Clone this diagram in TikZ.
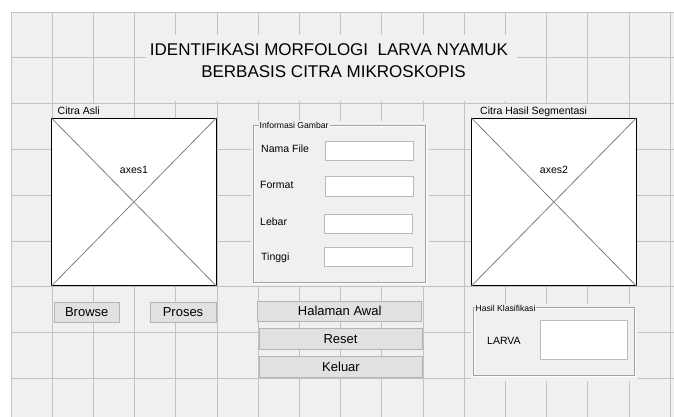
\documentclass[tikz,border=0pt]{standalone}
\usepackage{fontspec}
\setmainfont{Liberation Sans}

\definecolor{guibg}{HTML}{F0F0F0}
\definecolor{guigrid}{HTML}{C2C2C2}
\definecolor{btnfill}{HTML}{E1E1E1}
\definecolor{btnedge}{HTML}{B4B4B4}
\definecolor{editedge}{HTML}{B8BAC0}
\definecolor{paneledge}{HTML}{A0A0A0}

\begin{document}
\begin{tikzpicture}[x=1pt, y=-1pt,
    gridline/.style={guigrid, line width=0.9pt},
    btn/.style={draw=btnedge, fill=btnfill, line width=0.9pt, inner sep=0pt,
        minimum height=20.7pt, font=\fontsize{13}{15}\selectfont},
    editbox/.style={draw=editedge, fill=white, line width=0.9pt, inner sep=0pt,
        minimum width=87.7pt, minimum height=19.6pt},
    lbl/.style={inner sep=0pt, anchor=west, font=\fontsize{10.5}{12}\selectfont},
    caption/.style={inner sep=0pt, anchor=base west, font=\fontsize{10.5}{12}\selectfont},
    paneltitle/.style={inner sep=1pt, fill=guibg, anchor=base west,
        font=\fontsize{8.6}{10}\selectfont},
    titletext/.style={inner sep=0pt, anchor=base, font=\fontsize{17}{20}\selectfont},
    axesbox/.style={draw=black, fill=white, line width=1.1pt, inner sep=0pt,
        minimum width=164.3pt, minimum height=167.4pt},
    cross/.style={gray, line width=0.8pt}]

        \useasboundingbox (0,0) rectangle (674,417);
        \fill[white] (0,0) rectangle (674,417);
        \fill[guibg] (11,12) rectangle (674,417);

        % grid of the layout area
        \draw[gridline] (11,12) -- (11,417);
        \draw[gridline] (52.2,12) -- (52.2,417);
        \draw[gridline] (93.4,12) -- (93.4,417);
        \draw[gridline] (134.6,12) -- (134.6,417);
        \draw[gridline] (175.8,12) -- (175.8,417);
        \draw[gridline] (217,12) -- (217,417);
        \draw[gridline] (258.2,12) -- (258.2,417);
        \draw[gridline] (299.4,12) -- (299.4,417);
        \draw[gridline] (340.6,12) -- (340.6,417);
        \draw[gridline] (381.8,12) -- (381.8,417);
        \draw[gridline] (423,12) -- (423,417);
        \draw[gridline] (464.2,12) -- (464.2,417);
        \draw[gridline] (505.4,12) -- (505.4,417);
        \draw[gridline] (546.6,12) -- (546.6,417);
        \draw[gridline] (587.8,12) -- (587.8,417);
        \draw[gridline] (629,12) -- (629,417);
        \draw[gridline] (670.5,12) -- (670.5,417);
        \draw[gridline] (11,12) -- (674,12);
        \draw[gridline] (11,57.8) -- (674,57.8);
        \draw[gridline] (11,103.6) -- (674,103.6);
        \draw[gridline] (11,149.4) -- (674,149.4);
        \draw[gridline] (11,195.2) -- (674,195.2);
        \draw[gridline] (11,241) -- (674,241);
        \draw[gridline] (11,286.8) -- (674,286.8);
        \draw[gridline] (11,332.6) -- (674,332.6);
        \draw[gridline] (11,378.4) -- (674,378.4);

        % title
        \fill[guibg] (146,35) rectangle (517,101);
        \node[titletext] (title1) at (329,56) {IDENTIFIKASI MORFOLOGI \ LARVA NYAMUK};
        \node[titletext] (title2) at (333.5,78) {BERBASIS CITRA MIKROSKOPIS};

        % axes
        \fill[guibg] (52.5,104.5) rectangle (105,118);
        \fill[guibg] (466,104.5) rectangle (612,118);
        \node[caption] (asli) at (57.5,114) {Citra Asli};
        \node[caption] (hasil) at (480,114) {Citra Hasil Segmentasi};
        \node[axesbox] (ax1) at (133.9,202) {};
        \node[axesbox] (ax2) at (553.9,202) {};
        \draw[cross] (ax1.north west) -- (ax1.south east);
        \draw[cross] (ax1.south west) -- (ax1.north east);
        \draw[cross] (ax2.north west) -- (ax2.south east);
        \draw[cross] (ax2.south west) -- (ax2.north east);
        \node[lbl, anchor=center] (ax1txt) at (134,169.5) {axes1};
        \node[lbl, anchor=center] (ax2txt) at (554,169.5) {axes2};

        % panel informasi gambar
        \fill[guibg] (250.5,121) rectangle (429,286);
        \draw[white, line width=0.9pt] (254.5,126) rectangle (426.5,283.5);
        \draw[paneledge, line width=0.9pt] (253.5,125) rectangle (425.5,282.5);
        \node[paneltitle] (info) at (258.5,128.5) {Informasi Gambar};
        \node[lbl] (nama) at (261,148.7) {Nama File};
        \node[lbl] (format) at (260,185) {Format};
        \node[lbl] (lebar) at (260,222) {Lebar};
        \node[lbl] (tinggi) at (261,257.5) {Tinggi};
        \node[editbox] (namabox) at (369.2,150.9) {};
        \node[editbox] (formatbox) at (369.2,186.7) {};
        \node[editbox] (lebarbox) at (368.3,224) {};
        \node[editbox] (tinggibox) at (368.3,256.9) {};

        % buttons
        \node[btn, minimum width=65.3pt] (browse) at (86.7,312.3) {Browse};
        \node[btn, minimum width=66pt] (proses) at (183,312.3) {Proses};
        \node[btn, minimum width=164pt] (awal) at (339.7,311.3) {Halaman Awal};
        \node[btn, minimum width=163pt] (reset) at (340.5,338.7) {Reset};
        \node[btn, minimum width=163.4pt] (keluar) at (341,367) {Keluar};

        % panel hasil klasifikasi
        \fill[guibg] (470.5,304) rectangle (637.5,381);
        \draw[white, line width=0.9pt] (474.5,308) rectangle (635.5,376.5);
        \draw[paneledge, line width=0.9pt] (473.5,307.3) rectangle (634.7,375.7);
        \node[paneltitle] (klas) at (474.5,311) {Hasil Klasifikasi};
        \node[lbl] (larva) at (487,340.7) {LARVA};
        \node[editbox, minimum height=39pt] (larvabox) at (583.9,339.5) {};
    \end{tikzpicture}
\end{document}
